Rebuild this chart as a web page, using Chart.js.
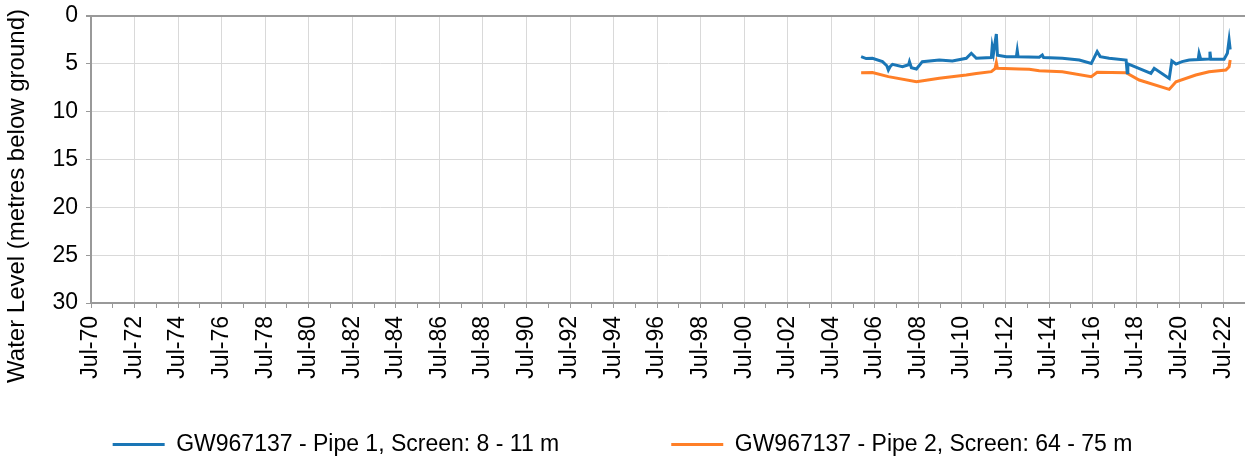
<!DOCTYPE html>
<html><head><meta charset="utf-8">
<script src="https://cdn.jsdelivr.net/npm/chart.js@4.4.1/dist/chart.umd.min.js"></script>
<style>html,body{margin:0;padding:0;background:#fff;}#wrap{width:1245px;height:466px;}</style>
</head><body><div id="wrap"><canvas id="c" width="1245" height="466"></canvas></div>
<script>
// ---- data (decimal years / metres below ground) ----
const seriesNames = ['GW967137 - Pipe 1, Screen: 8 - 11 m', 'GW967137 - Pipe 2, Screen: 64 - 75 m'];
const yAxisTitle = 'Water Level (metres below ground)';
const xTickLabels = ['Jul-70','Jul-72','Jul-74','Jul-76','Jul-78','Jul-80','Jul-82','Jul-84','Jul-86','Jul-88','Jul-90','Jul-92','Jul-94','Jul-96','Jul-98','Jul-00','Jul-02','Jul-04','Jul-06','Jul-08','Jul-10','Jul-12','Jul-14','Jul-16','Jul-18','Jul-20','Jul-22'];
const yTickValues = [0, 5, 10, 15, 20, 25, 30];

const pipe1Years = [2005.87,2006.1,2006.39,2006.85,2007.05,2007.12,2007.2,2007.31,2007.77,2008.05,2008.09,2008.18,2008.41,2008.68,2009.46,2010.06,2010.70,2010.93,2011.16,2011.85,2011.89,2011.95,2012.08,2012.13,2012.54,2013.0,2013.04,2013.08,2014.05,2014.19,2014.25,2015.11,2015.89,2016.44,2016.58,2016.71,2016.85,2017.26,2018.04,2018.09,2018.12,2018.18,2019.18,2019.33,2020.02,2020.14,2020.33,2020.61,2020.94,2021.35,2021.39,2021.47,2021.85,2021.89,2021.93,2022.54,2022.69,2022.77,2022.82];
const pipe1Levels = [4.25,4.45,4.42,4.77,5.2,5.64,5.3,5.05,5.3,5.1,4.77,5.4,5.54,4.77,4.6,4.7,4.42,3.9,4.42,4.35,3.2,3.9,1.88,4.1,4.25,4.25,3.6,4.25,4.3,4.08,4.35,4.42,4.6,4.95,4.32,3.73,4.25,4.42,4.6,5.92,5.0,5.05,5.99,5.47,6.52,4.7,5.02,4.77,4.6,4.55,3.9,4.53,4.5,3.73,4.53,4.53,3.9,2.5,3.5];

const pipe2Years = [2005.87,2006.39,2007.12,2008.41,2009.46,2010.70,2011.16,2011.85,2012.02,2012.08,2012.13,2013.13,2013.59,2014.05,2015.11,2016.44,2016.71,2018.04,2018.64,2020.02,2020.33,2021.24,2021.85,2022.62,2022.77,2022.82];
const pipe2Levels = [5.92,5.9,6.34,6.86,6.5,6.17,6.0,5.82,5.5,4.88,5.47,5.54,5.57,5.72,5.82,6.34,5.89,5.92,6.69,7.67,6.87,6.17,5.82,5.64,5.3,4.6];

const xMin = 1970.5, xMax = 2023.5;
const FONT = '"Liberation Sans", Arial, sans-serif';
const colors = ['#1a76b6', '#ff7f27'];

const toPts = (xs, ys) => xs.map((x, i) => ({x, y: ys[i]}));

const yTitlePlugin = {
  id: 'yTitle',
  afterDraw(chart) {
    const ctx = chart.ctx;
    ctx.save();
    ctx.translate(17, 196);
    ctx.rotate(-Math.PI / 2);
    ctx.font = '24px ' + FONT;
    ctx.fillStyle = '#000';
    ctx.textAlign = 'center';
    ctx.textBaseline = 'middle';
    ctx.fillText(yAxisTitle, 0, 0);
    ctx.restore();
  }
};

new Chart(document.getElementById('c'), {
  type: 'line',
  data: {
    datasets: [
      {label: seriesNames[0], data: toPts(pipe1Years, pipe1Levels), borderColor: colors[0], backgroundColor: colors[0], borderWidth: 3, pointRadius: 0, tension: 0},
      {label: seriesNames[1], data: toPts(pipe2Years, pipe2Levels), borderColor: colors[1], backgroundColor: colors[1], borderWidth: 3, pointRadius: 0, tension: 0}
    ]
  },
  options: {
    responsive: false,
    animation: false,
    devicePixelRatio: 1,
    layout: {autoPadding: false, padding: {top: 16, left: 0, right: 0, bottom: 0}},
    plugins: {
      tooltip: {enabled: false},
      legend: {
        position: 'bottom',
        labels: {
          boxWidth: 52, boxHeight: 3, padding: 112,
          color: '#000', font: {family: FONT, size: 23},
          generateLabels(chart) {
            return Chart.defaults.plugins.legend.labels.generateLabels(chart).map(it => Object.assign(it, {lineWidth: 0}));
          }
        }
      }
    },
    scales: {
      x: {
        type: 'linear', min: xMin, max: xMax,
        afterBuildTicks(s) {
          const t = [];
          for (let v = xMin; v <= xMax + 1e-9; v += 1) t.push({value: v});
          s.ticks = t;
        },
        afterFit(s) {
          s.height = 18;
          s.paddingLeft = 0; s.paddingRight = 0;
          s._computeLabelArea = () => undefined; // let rotated labels extend below the axis box
        },
        ticks: {
          autoSkip: false, minRotation: 90, maxRotation: 90, padding: 8,
          color: '#000', font: {family: FONT, size: 23},
          callback(v, i) {
            return i % 2 === 0 ? (xTickLabels[i / 2] || '') : '';
          }
        },
        grid: {
          color: c => (c.index % 2 === 0 && c.index > 0) ? '#d9d9d9' : 'rgba(255,255,255,0)',
          tickColor: '#999', tickLength: 5, lineWidth: 1
        },
        border: {color: '#999', width: 2}
      },
      y: {
        type: 'linear', reverse: true, min: 0, max: 30,
        afterBuildTicks(s) { s.ticks = yTickValues.map(v => ({value: v})); },
        afterFit(s) { s.width = 91; s.paddingTop = 0; s.paddingBottom = 0; },
        ticks: {padding: 8, color: '#000', font: {family: FONT, size: 23}},
        grid: {
          color: c => (c.tick && c.tick.value === 0) ? '#999' : '#d9d9d9',
          lineWidth: c => (c.tick && c.tick.value === 0) ? 2 : 1,
          tickColor: '#999', tickLength: 5
        },
        border: {color: '#999', width: 2}
      }
    }
  },
  plugins: [yTitlePlugin]
});
</script></body></html>
